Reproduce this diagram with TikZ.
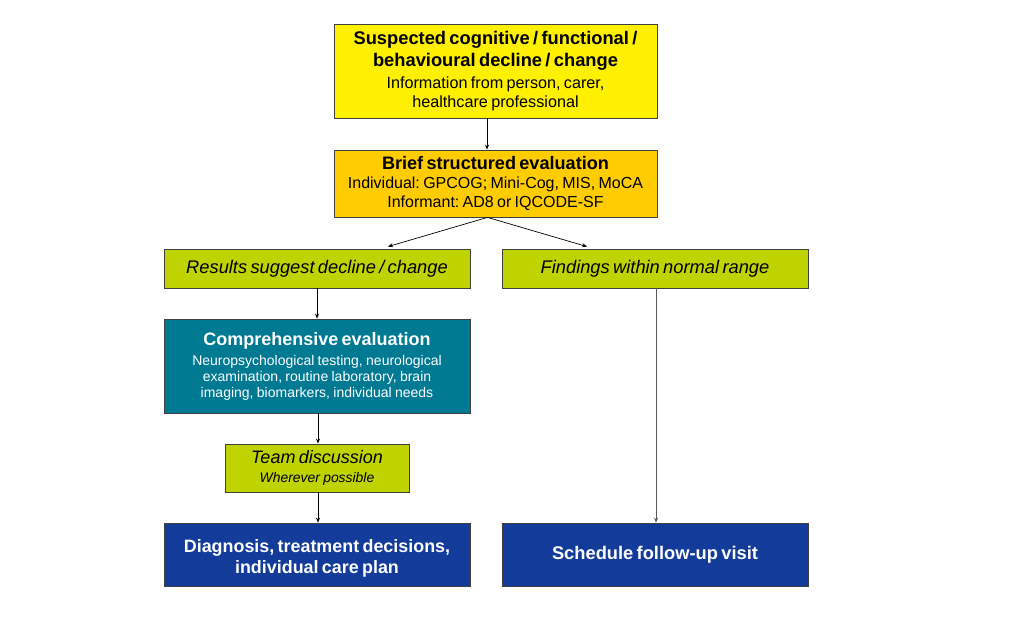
\documentclass[tikz,border=0pt]{standalone}
\usepackage{fontspec}
\setmainfont{Liberation Sans}
\usetikzlibrary{arrows.meta,calc}
\frenchspacing
\definecolor{cyel}{HTML}{FFF000}
\definecolor{corg}{HTML}{FFCC00}
\definecolor{cgrn}{HTML}{BFD300}
\definecolor{cteal}{HTML}{007A92}
\definecolor{cblue}{HTML}{133C9A}
\definecolor{cedge}{HTML}{404040}
\tikzset{
  fbox/.style={draw=cedge,line width=0.8pt,inner sep=2pt,align=center,anchor=center,font=\frenchspacing},
  wide/.style={text width=302pt,minimum width=306pt},
  arr/.style={-{Stealth[length=5pt,width=4pt]},line width=0.7pt,black},
}
\begin{document}
\begin{tikzpicture}[x=1pt,y=-1pt]
\useasboundingbox[fill=white] (0,0) rectangle (1023,628);
\node[fbox,fill=cyel,text width=319pt,minimum width=323pt,minimum height=94pt] (top) at (495.5,71)
  {{\fontsize{18.3}{22}\selectfont\bfseries Suspected cognitive / functional /\\ behavioural decline / change\par}\vspace{3pt}
   {\fontsize{16.2}{19}\selectfont Information from person, carer,\\ healthcare professional\par}\vspace{3pt}};
\node[fbox,fill=corg,text width=319pt,minimum width=323pt,minimum height=67pt] (brief) at (495.5,183.5)
  {{\fontsize{18.1}{21}\selectfont\bfseries Brief structured evaluation\par}\vspace{0.5pt}
   {\fontsize{16}{18.5}\selectfont Individual: GPCOG; Mini-Cog, MIS, MoCA\\ Informant: AD8 or IQCODE-SF\par}};
\node[fbox,wide,fill=cgrn,minimum height=39pt] (res) at (317,268.5)
  {\fontsize{18.3}{21}\selectfont\itshape Results suggest decline / change\par};
\node[fbox,wide,fill=cgrn,minimum height=39pt] (find) at (655,268.5)
  {\fontsize{18.3}{21}\selectfont\itshape Findings within normal range\par};
\node[fbox,wide,fill=cteal,text=white,minimum height=94pt] (comp) at (317,366)
  {{\fontsize{18}{22}\selectfont\bfseries Comprehensive evaluation\par}\vspace{4pt}
   {\fontsize{14}{16}\selectfont Neuropsychological testing, neurological\\ examination, routine laboratory, brain\\ imaging, biomarkers, individual needs\par}};
\node[fbox,fill=cgrn,text width=180pt,minimum width=184pt,minimum height=48pt] (team) at (317,468)
  {{\fontsize{18}{21}\selectfont\itshape Team discussion\par}\vspace{2pt}
   {\fontsize{13.9}{17}\selectfont\itshape Wherever possible\par}};
\node[fbox,wide,fill=cblue,text=white,minimum height=63pt] (diag) at (317,554.5)
  {{\fontsize{17.9}{21}\selectfont\bfseries\rule{0pt}{20pt}Diagnosis, treatment decisions,\\ individual care plan\par}};
\node[fbox,wide,fill=cblue,text=white,minimum height=63pt] (sched) at (655,554.5)
  {\fontsize{18.3}{21}\selectfont\bfseries Schedule follow-up visit\par};
\draw[arr] ([xshift=-8.5]top.south) -- ([xshift=-8.5]brief.north);
\draw[arr] ([xshift=-8]brief.south) -- ([xshift=71,yshift=2]res.north);
\draw[arr] ([xshift=-8]brief.south) -- ([xshift=-68,yshift=2]find.north);
\draw[arr] (res.south) -- (comp.north);
\draw[arr] ([xshift=1]comp.south) -- ([xshift=1]team.north);
\draw[arr] ([xshift=1]team.south) -- ([xshift=1]diag.north);
\draw[arr,draw=black!65] ([xshift=1]find.south) -- ([xshift=1]sched.north);
\end{tikzpicture}
\end{document}
